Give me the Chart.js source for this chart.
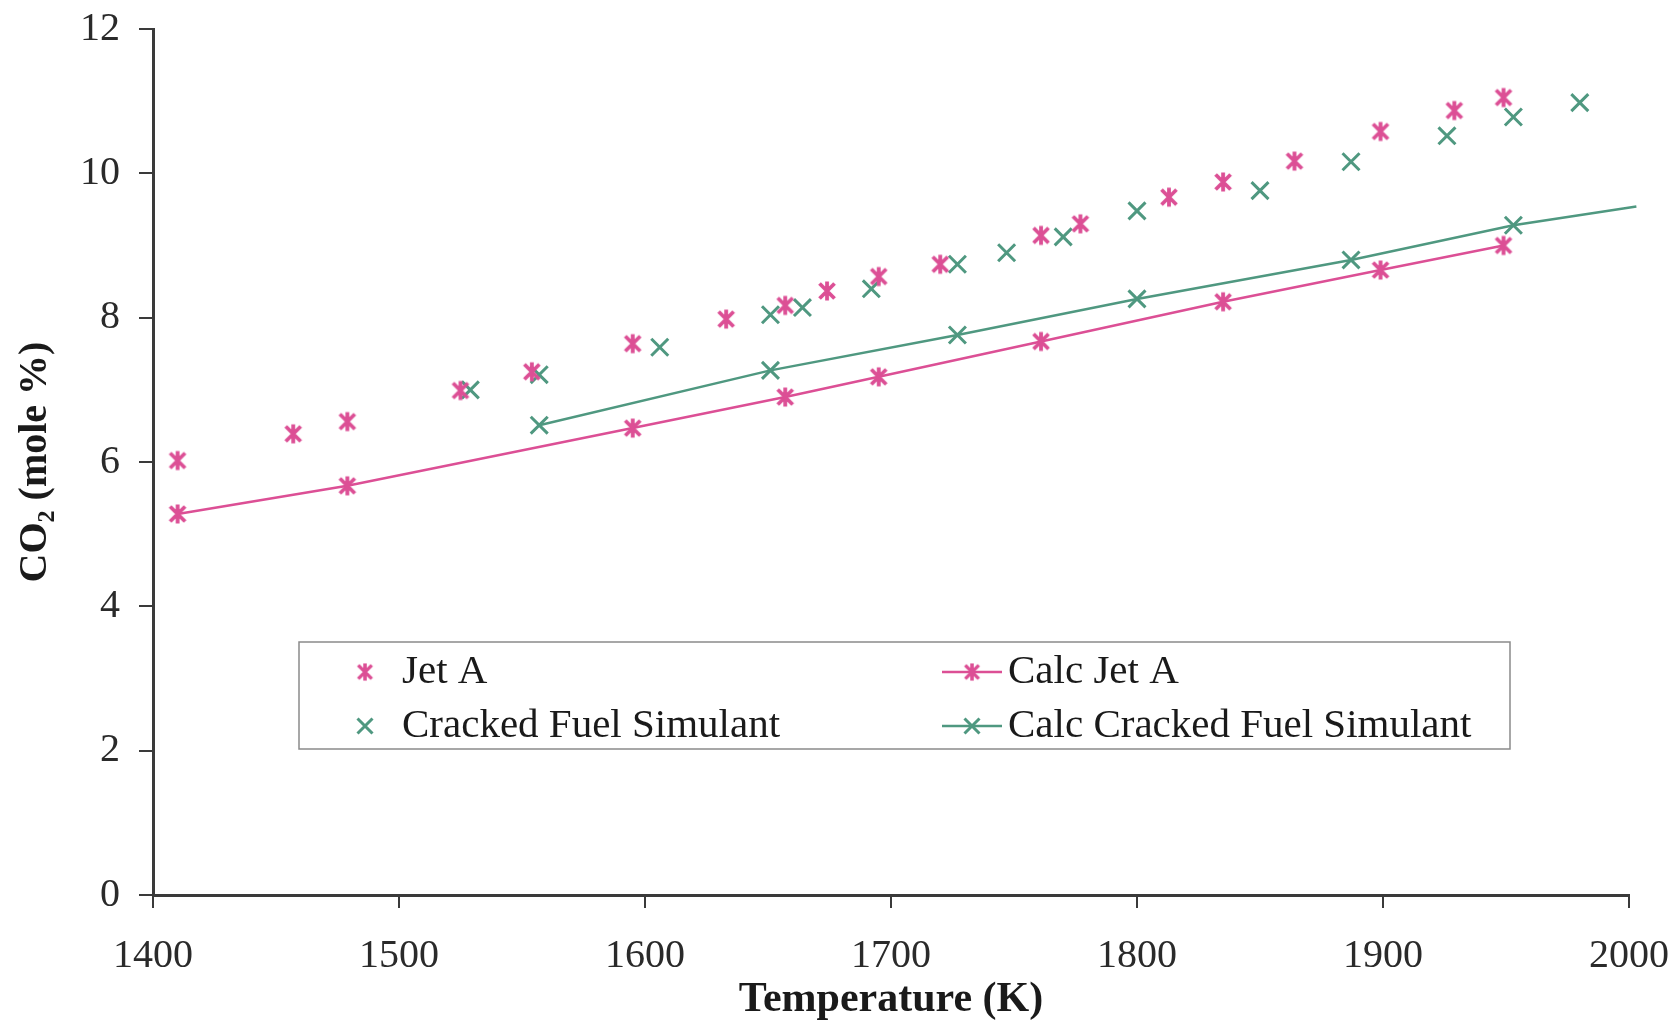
<!DOCTYPE html>
<html>
<head>
<meta charset="utf-8">
<title>CO2 vs Temperature</title>
<script src="https://cdn.jsdelivr.net/npm/chart.js@4.4.1/dist/chart.umd.min.js"></script>
<style>
    html, body { margin: 0; padding: 0; background: #fff; }
    #wrap { width: 1678px; height: 1025px; }
</style>
</head>
<body>
<div id="wrap"><canvas id="co2Chart" width="1678" height="1025"></canvas></div>
<script>
// measured points (temperature K, CO2 mole %)
const jetATemp = [1410, 1457, 1479, 1525, 1554, 1595, 1633, 1657, 1674, 1695, 1720, 1761, 1777, 1813, 1835, 1864, 1899, 1929, 1949];
const jetACO2 = [6.02, 6.39, 6.56, 6.99, 7.25, 7.64, 7.98, 8.17, 8.37, 8.57, 8.74, 9.14, 9.30, 9.67, 9.88, 10.17, 10.58, 10.87, 11.05];

const crackedTemp = [1529, 1557, 1606, 1651, 1664, 1692, 1727, 1747, 1770, 1800, 1850, 1887, 1926, 1953, 1980];
const crackedCO2 = [7.00, 7.21, 7.59, 8.04, 8.14, 8.40, 8.74, 8.90, 9.12, 9.48, 9.76, 10.16, 10.52, 10.78, 10.98];

// calculated curves
const calcJetTemp = [1410, 1479, 1595, 1657, 1695, 1761, 1835, 1899, 1949];
const calcJetCO2 = [5.28, 5.67, 6.47, 6.90, 7.18, 7.67, 8.22, 8.66, 9.00];

const calcCrackedTemp = [1557, 1651, 1727, 1800, 1887, 1953, 2003];
const calcCrackedCO2 = [6.51, 7.27, 7.76, 8.26, 8.80, 9.28, 9.54];

const pink = '#dc4f95';
const green = '#4f9880';
const fontName = "'Liberation Serif', 'Times New Roman', serif";

const toPoints = (xs, ys) => xs.map((x, i) => ({ x: x, y: ys[i] }));

// asterisk marker (x with a vertical bar) like the original
function makeStar(color) {
    const c = document.createElement('canvas');
    c.width = 22;
    c.height = 22;
    const g = c.getContext('2d');
    g.strokeStyle = color;
    g.lineWidth = 3.8;
    g.beginPath();
    g.moveTo(3.5, 3.5); g.lineTo(18.5, 18.5);
    g.moveTo(18.5, 3.5); g.lineTo(3.5, 18.5);
    g.moveTo(11, 1.5); g.lineTo(11, 20.5);
    g.stroke();
    return c;
}
const starPink = makeStar(pink);

function drawX(ctx, x, y, h) {
    ctx.beginPath();
    ctx.moveTo(x - h, y - h); ctx.lineTo(x + h, y + h);
    ctx.moveTo(x + h, y - h); ctx.lineTo(x - h, y + h);
    ctx.stroke();
}

// legend drawn inside the plot, two columns like the source
const boxLegend = {
    id: 'boxLegend',
    afterDraw(chart) {
        const ctx = chart.ctx;
        const left = 299, top = 642, right = 1510, bottom = 749;
        ctx.save();
        ctx.fillStyle = '#fff';
        ctx.fillRect(left, top, right - left, bottom - top);
        ctx.strokeStyle = '#8a8a8a';
        ctx.lineWidth = 1.5;
        ctx.strokeRect(left, top, right - left, bottom - top);

        ctx.font = '41px ' + fontName;
        ctx.textBaseline = 'middle';
        ctx.textAlign = 'left';

        const row1 = 672, row2 = 726;
        // Jet A
        ctx.drawImage(starPink, 365 - 10, row1 - 10, 20, 20);
        ctx.fillStyle = '#1a1a1a';
        ctx.fillText('Jet A', 402, row1);
        // Cracked Fuel Simulant
        ctx.strokeStyle = green;
        ctx.lineWidth = 3;
        drawX(ctx, 365, row2, 7.5);
        ctx.fillText('Cracked Fuel Simulant', 402, row2);

        // Calc Jet A
        ctx.strokeStyle = pink;
        ctx.lineWidth = 2.5;
        ctx.beginPath();
        ctx.moveTo(942, row1); ctx.lineTo(1002, row1);
        ctx.stroke();
        ctx.drawImage(starPink, 972 - 10, row1 - 10, 20, 20);
        ctx.fillText('Calc Jet A', 1008, row1);

        // Calc Cracked Fuel Simulant
        ctx.strokeStyle = green;
        ctx.lineWidth = 2.5;
        ctx.beginPath();
        ctx.moveTo(942, row2); ctx.lineTo(1002, row2);
        ctx.stroke();
        ctx.lineWidth = 3;
        drawX(ctx, 972, row2, 7.5);
        ctx.fillText('Calc Cracked Fuel Simulant', 1008, row2);
        ctx.restore();
    }
};

const ctx = document.getElementById('co2Chart').getContext('2d');
new Chart(ctx, {
    type: 'scatter',
    data: {
        datasets: [
            {
                label: 'Calc Jet A',
                data: toPoints(calcJetTemp, calcJetCO2),
                showLine: true,
                borderColor: pink,
                borderWidth: 2.5,
                pointStyle: starPink,
                pointRadius: 10,
                tension: 0
            },
            {
                label: 'Calc Cracked Fuel Simulant',
                data: toPoints(calcCrackedTemp, calcCrackedCO2),
                showLine: true,
                borderColor: green,
                backgroundColor: green,
                borderWidth: 2.5,
                pointStyle: 'crossRot',
                pointBorderWidth: 3,
                pointRadius: c => (c.dataIndex === calcCrackedTemp.length - 1 ? 0 : 12),
                clip: 10,
                tension: 0
            },
            {
                label: 'Jet A',
                data: toPoints(jetATemp, jetACO2),
                pointStyle: starPink,
                pointRadius: 10,
                borderColor: pink,
                backgroundColor: pink
            },
            {
                label: 'Cracked Fuel Simulant',
                data: toPoints(crackedTemp, crackedCO2),
                pointStyle: 'crossRot',
                pointRadius: 12,
                pointBorderWidth: 3,
                borderColor: green,
                backgroundColor: green
            }
        ]
    },
    options: {
        responsive: false,
        animation: false,
        layout: { padding: { top: 29, right: 49, left: 0, bottom: 0 } },
        plugins: {
            legend: { display: false },
            tooltip: { enabled: false }
        },
        scales: {
            x: {
                type: 'linear',
                min: 1400,
                max: 2000,
                ticks: {
                    stepSize: 100,
                    color: '#2a2a2a',
                    font: { family: fontName, size: 40 },
                    padding: 24,
                    callback: v => String(v)
                },
                grid: { drawOnChartArea: false, drawTicks: true, tickLength: 13, color: '#3a3a3a', lineWidth: 2 },
                border: { display: true, color: '#3a3a3a', width: 3 },
                title: {
                    display: true,
                    text: 'Temperature (K)',
                    color: '#1a1a1a',
                    font: { family: fontName, size: 42, weight: 'bold' },
                    padding: { top: 0, bottom: 0 }
                },
                afterFit: s => {
                    s.height = 130;
                    s.paddingLeft = 0;
                    s.paddingRight = 0;
                }
            },
            y: {
                min: 0,
                max: 12,
                ticks: {
                    stepSize: 2,
                    color: '#2a2a2a',
                    font: { family: fontName, size: 40 },
                    padding: 19,
                    callback: v => String(v)
                },
                grid: { drawOnChartArea: false, drawTicks: true, tickLength: 14, color: '#3a3a3a', lineWidth: 2 },
                border: { display: true, color: '#3a3a3a', width: 3 },
                title: {
                    display: true,
                    text: 'CO₂ (mole %)',
                    color: '#1a1a1a',
                    font: { family: fontName, size: 40, weight: 'bold' },
                    padding: { top: 12, bottom: 0 }
                },
                afterFit: s => {
                    s.width = 153;
                    s.paddingTop = 0;
                    s.paddingBottom = 0;
                }
            }
        }
    },
    plugins: [boxLegend]
});
</script>
</body>
</html>
